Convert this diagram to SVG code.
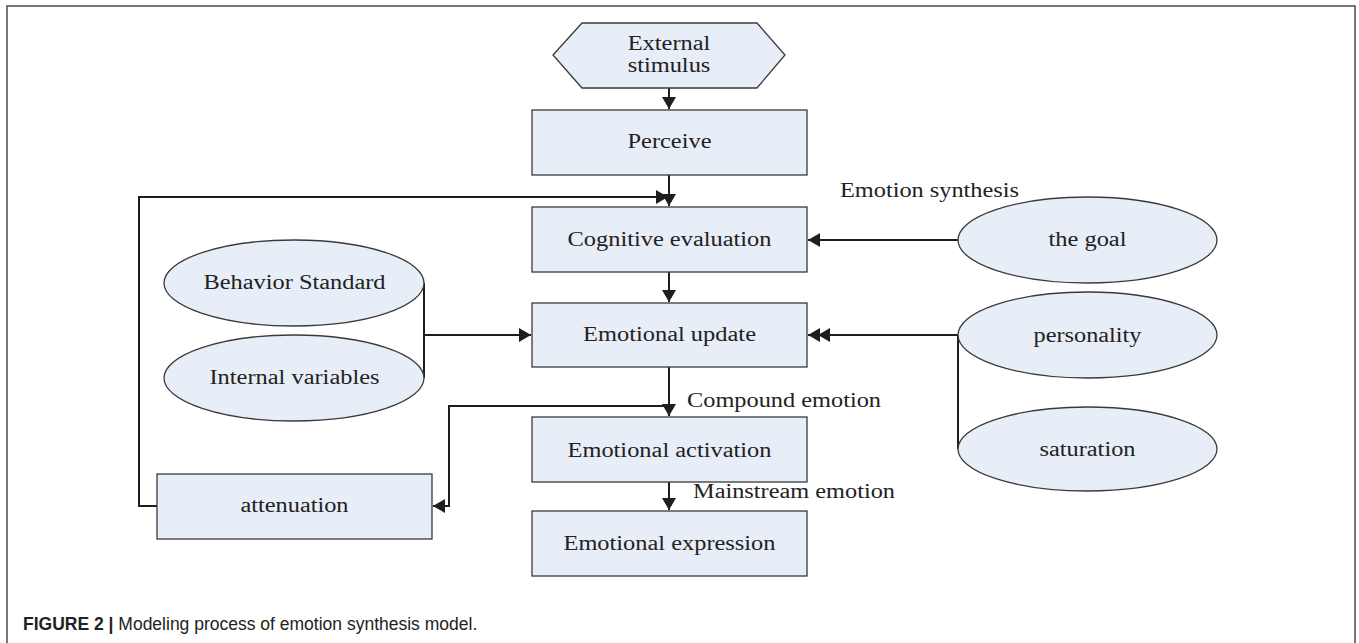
<svg xmlns="http://www.w3.org/2000/svg" width="1359" height="643" viewBox="0 0 1359 643">
<style>
.n{fill:#e8eef7;stroke:#3a3a3a;stroke-width:1.3}
.t{font-family:"Liberation Serif","Times New Roman",serif;font-size:20px;fill:#222;text-anchor:middle}
.l{font-family:"Liberation Serif","Times New Roman",serif;font-size:20px;fill:#222}
.c{fill:none;stroke:#1e1e1e;stroke-width:2}
.cap{font-family:"Liberation Sans",Arial,sans-serif;font-size:17.5px;fill:#222}
</style>
<defs>
<marker id="ah" markerUnits="userSpaceOnUse" markerWidth="13" markerHeight="14" refX="12" refY="7" orient="auto" viewBox="0 0 13 14">
<path d="M0,0 L12,7 L0,14 z" fill="#1e1e1e"/>
</marker>
</defs>
<rect x="7" y="6" width="1348" height="660" fill="#fff" stroke="#555" stroke-width="1.6"/>

<g id="connectors">
<path class="c" d="M669,88 V109" marker-end="url(#ah)"/>
<path class="c" d="M669,175 V206" marker-end="url(#ah)"/>
<path class="c" d="M669,272 V302" marker-end="url(#ah)"/>
<path class="c" d="M669,367 V416" marker-end="url(#ah)"/>
<path class="c" d="M669,482 V510" marker-end="url(#ah)"/>
<path class="c" d="M157,506 H139 V197 H668" marker-end="url(#ah)"/>
<path class="c" d="M669,406 H449 V506 H433" marker-end="url(#ah)"/>
<path class="c" d="M424,283 V378 M424,335 H531" marker-end="url(#ah)"/>
<path class="c" d="M958,240 H808" marker-end="url(#ah)"/>
<path class="c" d="M958,449 V335 H808" marker-end="url(#ah)"/>
<path class="c" d="M958,335 H818" marker-end="url(#ah)"/>
</g>

<g id="external-stimulus">
<polygon class="n" points="553,55 582,23 757,23 785,55 757,88 582,88"/>
<text class="t" x="669" y="50" textLength="82.7" lengthAdjust="spacingAndGlyphs">External</text>
<text class="t" x="669" y="72" textLength="82.7" lengthAdjust="spacingAndGlyphs">stimulus</text>
</g>
<g id="perceive">
<rect class="n" x="532" y="110" width="275" height="65"/>
<text class="t" x="669.5" y="148" textLength="84" lengthAdjust="spacingAndGlyphs">Perceive</text>
</g>
<g id="cognitive-evaluation">
<rect class="n" x="532" y="207" width="275" height="65"/>
<text class="t" x="669.5" y="246" textLength="204" lengthAdjust="spacingAndGlyphs">Cognitive evaluation</text>
</g>
<g id="emotional-update">
<rect class="n" x="532" y="303" width="275" height="64"/>
<text class="t" x="669.5" y="341" textLength="173" lengthAdjust="spacingAndGlyphs">Emotional update</text>
</g>
<g id="emotional-activation">
<rect class="n" x="532" y="417" width="275" height="65"/>
<text class="t" x="669.5" y="457" textLength="204" lengthAdjust="spacingAndGlyphs">Emotional activation</text>
</g>
<g id="emotional-expression">
<rect class="n" x="532" y="511" width="275" height="65"/>
<text class="t" x="669.5" y="550" textLength="212" lengthAdjust="spacingAndGlyphs">Emotional expression</text>
</g>
<g id="attenuation">
<rect class="n" x="157" y="474" width="275" height="65"/>
<text class="t" x="294.5" y="512" textLength="108" lengthAdjust="spacingAndGlyphs">attenuation</text>
</g>
<g id="behavior-standard">
<ellipse class="n" cx="294" cy="283" rx="130" ry="43"/>
<text class="t" x="294.5" y="289" textLength="182" lengthAdjust="spacingAndGlyphs">Behavior Standard</text>
</g>
<g id="internal-variables">
<ellipse class="n" cx="294" cy="378" rx="130" ry="43"/>
<text class="t" x="294.5" y="384" textLength="170" lengthAdjust="spacingAndGlyphs">Internal variables</text>
</g>
<g id="the-goal">
<ellipse class="n" cx="1087.5" cy="240" rx="129.5" ry="43"/>
<text class="t" x="1087.5" y="246" textLength="78" lengthAdjust="spacingAndGlyphs">the goal</text>
</g>
<g id="personality">
<ellipse class="n" cx="1087.5" cy="335" rx="129.5" ry="43"/>
<text class="t" x="1087.5" y="342" textLength="108" lengthAdjust="spacingAndGlyphs">personality</text>
</g>
<g id="saturation">
<ellipse class="n" cx="1087.5" cy="449" rx="129.5" ry="42"/>
<text class="t" x="1087.5" y="456" textLength="96" lengthAdjust="spacingAndGlyphs">saturation</text>
</g>

<g id="labels">
<text class="l" x="840" y="197" textLength="179" lengthAdjust="spacingAndGlyphs">Emotion synthesis</text>
<text class="l" x="687" y="407" textLength="194" lengthAdjust="spacingAndGlyphs">Compound emotion</text>
<text class="l" x="693" y="498" textLength="202" lengthAdjust="spacingAndGlyphs">Mainstream emotion</text>
</g>

<g id="caption">
<text class="cap" x="23" y="630"><tspan font-weight="bold">FIGURE 2 |</tspan> Modeling process of emotion synthesis model.</text>
</g>
</svg>
